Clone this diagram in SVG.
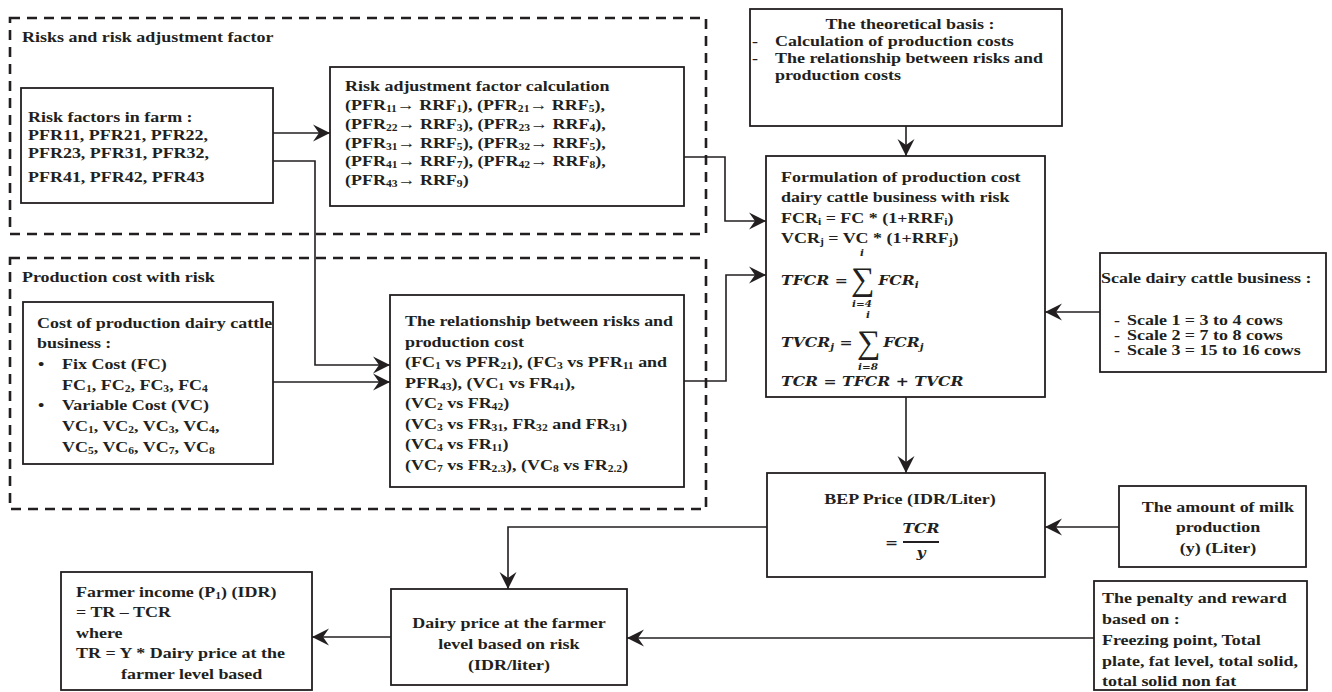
<svg xmlns="http://www.w3.org/2000/svg" width="1332" height="692" viewBox="0 0 1332 692">
<style>
text{font-family:"Liberation Serif","Times New Roman",serif;font-weight:bold;font-size:15.5px;fill:#231f20;transform-box:fill-box;transform-origin:0 0;transform:scaleX(1.16)}
text.c{text-anchor:middle;transform-origin:50% 0}
.s{font-size:10px;baseline-shift:-2px}
.m{font-family:"DejaVu Serif",serif;font-style:italic;font-size:13.5px}
.mi{font-family:"DejaVu Serif",serif;font-style:italic;font-size:9px}
text.sig{font-family:"Liberation Serif",serif;font-weight:normal;font-size:33px;transform:scaleX(1)}
.box{fill:#fff;stroke:#231f20;stroke-width:1.8}
.dash{fill:none;stroke:#231f20;stroke-width:2.6;stroke-dasharray:10 7}
.con{fill:none;stroke:#231f20;stroke-width:1.6;marker-end:url(#ah)}
</style>
<defs>
<marker id="ah" markerUnits="userSpaceOnUse" markerWidth="22" markerHeight="22" viewBox="-20 -11 22 22" refX="0" refY="0" orient="auto">
<path d="M0,0 L-17,-8.5 L-11,0 L-17,8.5 Z" fill="#231f20"/>
</marker>
</defs>
<rect width="1332" height="692" fill="#fff"/>

<g id="group-risks">
<rect class="dash" x="10" y="18" width="696" height="216"/>
<text x="22" y="42">Risks and risk adjustment factor</text>
</g>
<g id="group-production">
<rect class="dash" x="10" y="258" width="696" height="251"/>
<text x="22" y="282">Production cost with risk</text>
</g>

<g id="connectors">
<path class="con" d="M273,133 H330"/>
<path class="con" d="M273,161 H315 V365 H390"/>
<path class="con" d="M273,382 H390"/>
<path class="con" d="M684,157 H725 V221 H766"/>
<path class="con" d="M684,381 H726 V275 H766"/>
<path class="con" d="M906,126 V156"/>
<path class="con" d="M1100,312 H1045"/>
<path class="con" d="M906,397 V473"/>
<path class="con" d="M1119,527 H1045"/>
<path class="con" d="M767,527 H508 V589"/>
<path class="con" d="M1094,638 H627"/>
<path class="con" d="M391,637 H312"/>
</g>

<g id="risk-factors">
<rect class="box" x="21" y="88" width="252" height="115"/>
<text x="28" y="122">Risk factors in farm :</text>
<text x="28" y="140">PFR11, PFR21, PFR22,</text>
<text x="28" y="158">PFR23, PFR31, PFR32,</text>
<text x="28" y="182">PFR41, PFR42, PFR43</text>
</g>

<g id="risk-adjustment">
<rect class="box" x="330" y="67" width="354" height="139"/>
<text x="345" y="91">Risk adjustment factor calculation</text>
<text x="345" y="110">(PFR<tspan class="s">11</tspan>→ RRF<tspan class="s">1</tspan>), (PFR<tspan class="s">21</tspan>→ RRF<tspan class="s">5</tspan>),</text>
<text x="345" y="129">(PFR<tspan class="s">22</tspan>→ RRF<tspan class="s">3</tspan>), (PFR<tspan class="s">23</tspan>→ RRF<tspan class="s">4</tspan>),</text>
<text x="345" y="148">(PFR<tspan class="s">31</tspan>→ RRF<tspan class="s">5</tspan>), (PFR<tspan class="s">32</tspan>→ RRF<tspan class="s">5</tspan>),</text>
<text x="345" y="166">(PFR<tspan class="s">41</tspan>→ RRF<tspan class="s">7</tspan>), (PFR<tspan class="s">42</tspan>→ RRF<tspan class="s">8</tspan>),</text>
<text x="345" y="185">(PFR<tspan class="s">43</tspan>→ RRF<tspan class="s">9</tspan>)</text>
</g>

<g id="cost-production">
<rect class="box" x="23" y="302" width="250" height="162"/>
<text x="37" y="328">Cost of production dairy cattle</text>
<text x="37" y="348">business :</text>
<text x="38" y="369">•</text>
<text x="62" y="369">Fix Cost (FC)</text>
<text x="62" y="390">FC<tspan class="s">1</tspan>, FC<tspan class="s">2</tspan>, FC<tspan class="s">3</tspan>, FC<tspan class="s">4</tspan></text>
<text x="38" y="410">•</text>
<text x="62" y="410">Variable Cost (VC)</text>
<text x="62" y="431">VC<tspan class="s">1</tspan>, VC<tspan class="s">2</tspan>, VC<tspan class="s">3</tspan>, VC<tspan class="s">4</tspan>,</text>
<text x="62" y="452">VC<tspan class="s">5</tspan>, VC<tspan class="s">6</tspan>, VC<tspan class="s">7</tspan>, VC<tspan class="s">8</tspan></text>
</g>

<g id="relationship">
<rect class="box" x="390" y="295" width="294" height="192"/>
<text x="405" y="326">The relationship between risks and</text>
<text x="405" y="347">production cost</text>
<text x="405" y="367">(FC<tspan class="s">1</tspan> vs PFR<tspan class="s">21</tspan>), (FC<tspan class="s">3</tspan> vs PFR<tspan class="s">11</tspan> and</text>
<text x="405" y="388">PFR<tspan class="s">43</tspan>), (VC<tspan class="s">1</tspan> vs FR<tspan class="s">41</tspan>),</text>
<text x="405" y="408">(VC<tspan class="s">2</tspan> vs FR<tspan class="s">42</tspan>)</text>
<text x="405" y="429">(VC<tspan class="s">3</tspan> vs FR<tspan class="s">31</tspan>, FR<tspan class="s">32</tspan> and FR<tspan class="s">31</tspan>)</text>
<text x="405" y="449">(VC<tspan class="s">4</tspan> vs FR<tspan class="s">11</tspan>)</text>
<text x="405" y="470">(VC<tspan class="s">7</tspan> vs FR<tspan class="s">2.3</tspan>), (VC<tspan class="s">8</tspan> vs FR<tspan class="s">2.2</tspan>)</text>
</g>

<g id="theoretical-basis">
<rect class="box" x="750" y="9" width="312" height="117"/>
<text class="c" x="910" y="29">The theoretical basis :</text>
<text x="752" y="46">-</text>
<text x="775" y="46">Calculation of production costs</text>
<text x="752" y="63">-</text>
<text x="775" y="63">The relationship between risks and</text>
<text x="775" y="80">production costs</text>
</g>

<g id="formulation">
<rect class="box" x="766" y="156" width="279" height="241"/>
<text x="781" y="182">Formulation of production cost</text>
<text x="781" y="202">dairy cattle business with risk</text>
<text x="781" y="223">FCR<tspan class="s">i</tspan> = FC * (1+RRF<tspan class="s">i</tspan>)</text>
<text x="781" y="243">VCR<tspan class="s">j</tspan> = VC * (1+RRF<tspan class="s">j</tspan>)</text>
<text class="c mi" x="862" y="256">i</text>
<text class="m" x="781" y="285">TFCR =</text>
<text class="sig" x="851" y="290">∑</text>
<text class="m" x="878" y="285">FCR<tspan class="mi" baseline-shift="-3">i</tspan></text>
<text class="c mi" x="862" y="307">i=4</text>
<text class="c mi" x="868" y="318">i</text>
<text class="m" x="781" y="347">TVCR<tspan class="mi" baseline-shift="-3">j</tspan> =</text>
<text class="sig" x="857" y="353">∑</text>
<text class="m" x="883" y="347">FCR<tspan class="mi" baseline-shift="-3">j</tspan></text>
<text class="c mi" x="868" y="370">i=8</text>
<text class="m" x="781" y="386">TCR = TFCR + TVCR</text>
</g>

<g id="scale">
<rect class="box" x="1100" y="253" width="226" height="119"/>
<text x="1101" y="283">Scale dairy cattle business :</text>
<text x="1114" y="325">-</text>
<text x="1127" y="325">Scale 1 = 3 to 4 cows</text>
<text x="1114" y="340">-</text>
<text x="1127" y="340">Scale 2 = 7 to 8 cows</text>
<text x="1114" y="355">-</text>
<text x="1127" y="355">Scale 3 = 15 to 16 cows</text>
</g>

<g id="bep-price">
<rect class="box" x="767" y="473" width="278" height="104"/>
<text class="c" x="910" y="504">BEP Price (IDR/Liter)</text>
<text class="m" x="885" y="547">=</text>
<text class="c m" x="921" y="533">TCR</text>
<line x1="903" y1="542" x2="939" y2="542" stroke="#231f20" stroke-width="1.8"/>
<text class="c m" x="921" y="557">y</text>
</g>

<g id="milk-amount">
<rect class="box" x="1119" y="486" width="187" height="81"/>
<text class="c" x="1218" y="512">The amount of milk</text>
<text class="c" x="1218" y="532">production</text>
<text class="c" x="1218" y="553">(y) (Liter)</text>
</g>

<g id="penalty-reward">
<rect class="box" x="1094" y="581" width="213" height="109"/>
<text x="1102" y="603">The penalty and reward</text>
<text x="1102" y="624">based on :</text>
<text x="1102" y="645">Freezing point, Total</text>
<text x="1102" y="666">plate, fat level, total solid,</text>
<text x="1102" y="686">total solid non fat</text>
</g>

<g id="dairy-price">
<rect class="box" x="391" y="589" width="236" height="96"/>
<text class="c" x="509" y="628">Dairy price at the farmer</text>
<text class="c" x="509" y="649">level based on risk</text>
<text class="c" x="509" y="670">(IDR/liter)</text>
</g>

<g id="farmer-income">
<rect class="box" x="61" y="572" width="251" height="118"/>
<text x="76" y="597">Farmer income (P<tspan class="s">1</tspan>) (IDR)</text>
<text x="76" y="617">= TR – TCR</text>
<text x="76" y="638">where</text>
<text x="76" y="658">TR = Y * Dairy price at the</text>
<text x="121" y="679">farmer level based</text>
</g>
</svg>
